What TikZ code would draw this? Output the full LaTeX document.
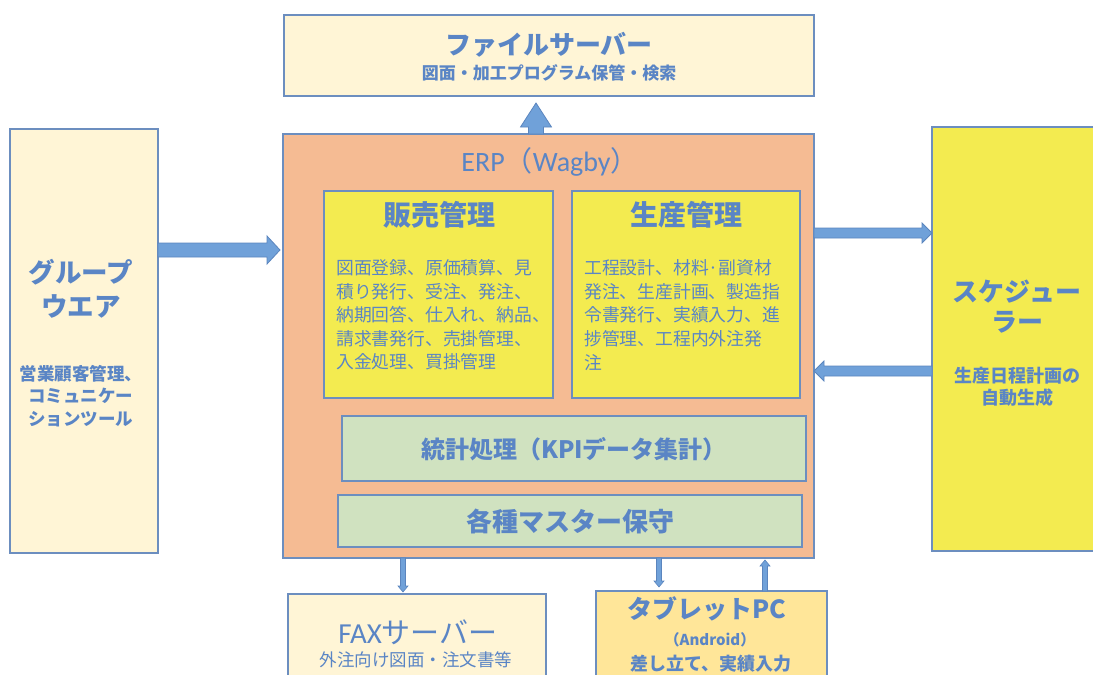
\documentclass[tikz,border=0pt]{standalone}
\usepackage{fontspec}
\setmainfont{Noto Sans CJK JP}
\newfontfamily\latinfont{Carlito}
\definecolor{txtblue}{HTML}{5A85C5}
\definecolor{boxline}{HTML}{6C8EBF}
\definecolor{cream}{HTML}{FFF5D6}
\definecolor{peach}{HTML}{F5BB93}
\definecolor{yel}{HTML}{F3EB50}
\definecolor{grn}{HTML}{D0E2C0}
\definecolor{gold}{HTML}{FFE699}
\definecolor{arrfill}{HTML}{70A1D9}
\definecolor{arrline}{HTML}{5B85BE}
\newcommand\fs[1]{\fontsize{#1}{#1}\selectfont}
\newcommand\fsb[2]{\fontsize{#1}{#2}\selectfont}
% block arrow: #1 style, #2 start coordinate, #3 angle, #4 length, #5 shaft half width, #6 head half width, #7 head length
\newcommand\blockarrow[7]{%
  \draw[barrow,#1,shift={#2},rotate=#3] (0,-#5) -- ({#4-#7},-#5) -- ({#4-#7},-#6) -- (#4,0)
    -- ({#4-#7},#6) -- ({#4-#7},#5) -- (0,#5) -- cycle;}
\begin{document}
\begin{tikzpicture}[x=1pt,y=-1pt,
  box/.style={draw=boxline, line width=1.2pt, rectangle, inner sep=0pt, outer sep=0pt, anchor=north west},
  lbl/.style={text=txtblue, inner sep=0pt, align=center},
  body/.style={text=txtblue, inner sep=0pt, align=left, anchor=west, font=\fsb{17.8}{23.6}},
  barrow/.style={draw=arrline, fill=arrfill, line width=0.8pt, line join=miter}
]
\useasboundingbox (0,0) rectangle (1093,675);
\clip (0,0) rectangle (1093,675);

% boxes
\node[box, fill=cream, minimum width=530pt, minimum height=81pt] (fsrv) at (284,15) {};
\node[box, fill=peach, minimum width=531pt, minimum height=424pt] (erp) at (283,134) {};
\node[box, fill=yel, minimum width=229pt, minimum height=207pt] (sales) at (324,191) {};
\node[box, fill=yel, minimum width=228pt, minimum height=207pt] (prod) at (572,191) {};
\node[box, fill=grn, minimum width=464pt, minimum height=65pt] (stat) at (342,416) {};
\node[box, fill=grn, minimum width=464pt, minimum height=52pt] (mast) at (338,495) {};
\node[box, fill=cream, minimum width=148pt, minimum height=424pt] (gw) at (10,129) {};
\node[box, fill=yel, minimum width=170pt, minimum height=424pt] (sch) at (932,127) {};
\node[box, fill=cream, minimum width=258pt, minimum height=120pt] (fax) at (288,594) {};
\node[box, fill=gold, minimum width=231pt, minimum height=120pt] (tab) at (596,591) {};

% texts
\node[lbl, font=\fs{26}\bfseries] (fsT) at (549,45) {ファイルサーバー};
\node[lbl, font=\fs{17}\bfseries] (fsS) at (549,73) {図面・加工プログラム保管・検索};
\node[lbl, font=\fs{28}] (erpT) at (550,162) {{\latinfont ERP}（{\latinfont Wagby}）};
\node[lbl, font=\fs{28}\bfseries] (salesT) at (439,215) {販売管理};
\node[body] (salesB) at (336,315) {図面登録、原価積算、見\\積り発行、受注、発注、\\納期回答、仕入れ、納品、\\請求書発行、売掛管理、\\入金処理、買掛管理};
\node[lbl, font=\fs{28}\bfseries] (prodT) at (686,215) {生産管理};
\node[body] (prodB) at (584,315) {工程設計、材料·副資材\\発注、生産計画、製造指\\令書発行、実績入力、進\\捗管理、工程内外注発\\注};
\node[lbl, font=\fs{24}\bfseries] (statT) at (574,449) {統計処理（KPIデータ集計）};
\node[lbl, font=\fs{26}\bfseries] (mastT) at (570,521) {各種マスター保守};
\node[lbl, font=\fs{26.5}\bfseries] (gwT1) at (81,272) {グループ};
\node[lbl, font=\fs{26.5}\bfseries] (gwT2) at (81,306) {ウエア};
\node[lbl, font=\fsb{17.5}{22.5}\bfseries] (gwS) at (81,396) {営業顧客管理、\\コミュニケー\\ションツール};
\node[lbl, font=\fs{26}\bfseries] (schT1) at (1017,292) {スケジュー};
\node[lbl, font=\fs{26}\bfseries] (schT2) at (1017,322) {ラー};
\node[lbl, font=\fs{18}\bfseries] (schS1) at (1017,376) {生産日程計画の};
\node[lbl, font=\fs{18}\bfseries] (schS2) at (1017,398) {自動生成};
\node[lbl, font=\fs{29}] (faxT) at (418,632) {{\latinfont FAX}サーバー};
\node[lbl, font=\fs{17.5}] (faxS) at (416,660) {外注向け図面・注文書等};
\node[lbl, font=\fs{25}\bfseries] (tabT) at (707,609) {タブレットPC};
\node[lbl, font=\fs{15}\bfseries] (tabA) at (710,640) {（Android）};
\node[lbl, font=\fs{18}\bfseries] (tabS) at (711,664) {差し立て、実績入力};

% block arrows (connectors): groupware -> ERP, ERP <-> scheduler, ERP -> file server
\blockarrow{}{(gw.east |- 0,250)}{0}{122}{7}{14}{13}
\blockarrow{}{(erp.east |- 0,233)}{0}{118}{5}{10}{10}
\blockarrow{}{(sch.west |- 0,371)}{180}{118}{5}{10}{10}
\blockarrow{}{(erp.north -| 536,0)}{90}{31}{7.5}{15.5}{24}
% thin arrows: ERP -> FAX, ERP -> tablet, tablet -> ERP
\blockarrow{line width=0.6pt}{(erp.south -| 403,0)}{270}{34}{2.5}{5}{6}
\blockarrow{line width=0.6pt}{(erp.south -| 659,0)}{270}{29}{2.5}{5}{6}
\blockarrow{line width=0.6pt}{(tab.north -| 765,0)}{90}{31}{2.5}{5}{6}
\end{tikzpicture}
\end{document}
